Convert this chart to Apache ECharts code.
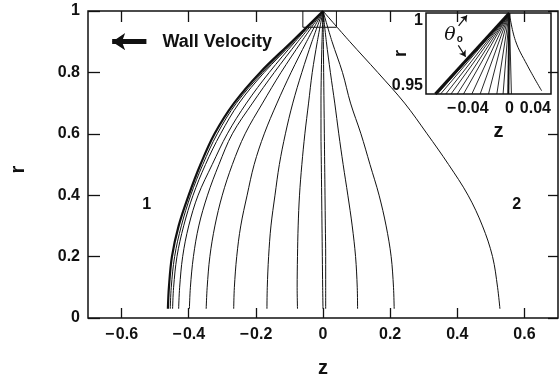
<!DOCTYPE html>
<html>
<head>
<meta charset="utf-8">
<script src="https://cdn.jsdelivr.net/npm/echarts@6/dist/echarts.min.js"></script>
<style>
  html, body { margin: 0; padding: 0; background: #fff; }
  #chart { width: 559px; height: 379px; }
</style>
</head>
<body>
<div id="chart"></div>
<script>
// Radial levels at which each interface profile z(r) is sampled
const rLevels = [1, 0.9, 0.8, 0.7, 0.6, 0.5, 0.4, 0.3, 0.2, 0.1, 0.03];

// Interface profiles z(r), one array per time step
const path1  = [0, -0.093, -0.187, -0.265, -0.323, -0.365, -0.400, -0.430, -0.450, -0.459, -0.462];
const path2  = [0, -0.090, -0.180, -0.258, -0.315, -0.358, -0.394, -0.422, -0.442, -0.452, -0.455];
const path3  = [0, -0.087, -0.175, -0.250, -0.305, -0.350, -0.387, -0.415, -0.435, -0.445, -0.448];
const path4  = [0, -0.083, -0.160, -0.228, -0.285, -0.330, -0.372, -0.400, -0.418, -0.427, -0.430];
const path5  = [0, -0.075, -0.145, -0.210, -0.270, -0.310, -0.344, -0.370, -0.386, -0.395, -0.398];
const path6  = [0, -0.064, -0.125, -0.180, -0.232, -0.270, -0.300, -0.322, -0.337, -0.345, -0.348];
const path7  = [0, -0.049, -0.095, -0.137, -0.175, -0.205, -0.226, -0.245, -0.257, -0.264, -0.266];
const path8  = [0, -0.033, -0.063, -0.090, -0.112, -0.130, -0.143, -0.155, -0.162, -0.166, -0.167];
const path9  = [0, -0.017, -0.032, -0.043, -0.054, -0.063, -0.070, -0.074, -0.076, -0.077, -0.076];
const path10 = [0, -0.003, -0.005, -0.006, -0.006, -0.005, -0.004, -0.003, -0.002, -0.001, 0.000];
const path11 = [0, 0.001, 0.002, 0.003, 0.004, 0.005, 0.006, 0.007, 0.008, 0.008, 0.008];
const path12 = [0, 0.010, 0.022, 0.035, 0.047, 0.060, 0.074, 0.087, 0.097, 0.102, 0.103];
const path13 = [0, 0.027, 0.058, 0.082, 0.113, 0.140, 0.167, 0.188, 0.203, 0.210, 0.212];
const path14 = [0, 0.080, 0.163, 0.243, 0.310, 0.374, 0.432, 0.475, 0.505, 0.520, 0.527];
const profiles = [path1, path2, path3, path4, path5, path6, path7, path8, path9, path10, path11, path12, path13, path14];

// Axis ticks
const zTicks = [-0.6, -0.4, -0.2, 0, 0.2, 0.4, 0.6];

// Region near the contact line that the inset enlarges: [zMin, zMax, rMin, rMax]
const zoomBox = [-0.06, 0.04, 0.947, 1];

// Inset: profiles near the contact line, end points at r = 0.95
const insetEnds = [-0.071, -0.069, -0.066, -0.061, -0.056, -0.050, -0.044, -0.036, -0.028, -0.020, -0.012, -0.006, -0.001, 0.002];
const insetCurveZ = [0, 0.0058, 0.017, 0.031];
const insetCurveR = [1, 0.983, 0.968, 0.952];

const FONT = "'Liberation Sans', Arial, Helvetica, sans-serif";
const INK = '#111';

function fmt(v) {
  if (Math.abs(v) < 1e-9) return '0';
  const s = String(+Math.abs(v).toFixed(3));
  return (v < 0 ? '\u2212\u200a' : '') + s;
}

const labelStyle = { fontFamily: FONT, fontWeight: 'bold', fontSize: 16, color: INK };
const tickLine = { color: INK, width: 1.3 };
const noLine = { show: false, onZero: false };

const series = [];
profiles.forEach((zs, i) => {
  series.push({
    type: 'line', xAxisIndex: 0, yAxisIndex: 0,
    data: zs.map((z, k) => [z, rLevels[k]]),
    showSymbol: false, smooth: 0.35, silent: true,
    lineStyle: { color: INK, width: i === 0 ? 2.2 : 1 }
  });
});

// Outline of the enlarged region
series.push({
  type: 'line', xAxisIndex: 0, yAxisIndex: 0, showSymbol: false, silent: true,
  data: [[zoomBox[0], zoomBox[3]], [zoomBox[0], zoomBox[2]], [zoomBox[1], zoomBox[2]], [zoomBox[1], zoomBox[3]]],
  lineStyle: { color: INK, width: 1 }
});

// Inset profiles
insetEnds.forEach((z, i) => {
  series.push({
    type: 'line', xAxisIndex: 2, yAxisIndex: 2, showSymbol: false, silent: true, z: 6,
    data: [[0, 1], [z, 0.95]],
    lineStyle: { color: INK, width: i === 0 ? 3 : (i === 12 ? 2 : 0.9) }
  });
});
series.push({
  type: 'line', xAxisIndex: 2, yAxisIndex: 2, showSymbol: false, silent: true, smooth: 0.4, z: 6,
  data: insetCurveZ.map((z, k) => [z, insetCurveR[k]]),
  lineStyle: { color: INK, width: 1 }
});

// Wall velocity arrow
series.push({
  type: 'lines', coordinateSystem: 'cartesian2d', xAxisIndex: 0, yAxisIndex: 0, silent: true,
  symbol: ['none', 'arrow'], symbolSize: 13,
  lineStyle: { color: INK, width: 5, opacity: 1 },
  data: [{ coords: [[-0.526, 0.9], [-0.628, 0.9]] }]
});
// Arrows marking the contact angle in the inset
series.push({
  type: 'lines', coordinateSystem: 'cartesian2d', xAxisIndex: 2, yAxisIndex: 2, silent: true, z: 6,
  symbol: ['none', 'arrow'], symbolSize: 6,
  lineStyle: { color: INK, width: 1.2, opacity: 1 },
  data: [
    { coords: [[-0.0487, 0.992], [-0.0406, 0.9985]] },
    { coords: [[-0.0490, 0.9800], [-0.0420, 0.9730]] }
  ]
});

const option = {
  animation: false,
  backgroundColor: '#fff',
  grid: [
    { left: 88, top: 11, width: 470, height: 307, show: true, borderColor: INK, borderWidth: 1.5,
      backgroundColor: 'transparent', containLabel: false, outerBoundsMode: 'none' },
    { left: 426, top: 13, width: 125, height: 81, show: true, borderColor: INK, borderWidth: 1.5,
      backgroundColor: 'transparent', containLabel: false, outerBoundsMode: 'none' }
  ],
  xAxis: [
    {
      type: 'value', gridIndex: 0, position: 'bottom', min: -0.7, max: 0.7,
      axisLine: noLine, splitLine: { show: false },
      axisTick: { show: true, inside: true, length: 10, customValues: zTicks, lineStyle: tickLine },
      axisLabel: Object.assign({ customValues: zTicks, margin: 9, formatter: fmt }, labelStyle),
      name: 'z', nameLocation: 'middle', nameGap: 40,
      nameTextStyle: { fontFamily: FONT, fontWeight: 'bold', fontSize: 20, color: INK }
    },
    {
      type: 'value', gridIndex: 0, position: 'top', min: -0.7, max: 0.7,
      axisLine: noLine, splitLine: { show: false },
      axisTick: { show: true, inside: true, length: 11, customValues: zTicks, lineStyle: tickLine },
      axisLabel: { show: false }
    },
    {
      type: 'value', gridIndex: 1, position: 'bottom', min: -0.08, max: 0.04, interval: 0.04,
      axisLine: noLine, splitLine: { show: false }, axisTick: { show: false },
      axisLabel: Object.assign({ margin: 7, showMinLabel: false, alignMaxLabel: 'right', formatter: fmt }, labelStyle),
      name: 'z', nameLocation: 'middle', nameGap: 27, nameMoveOverlap: false,
      nameTextStyle: { fontFamily: FONT, fontWeight: 'bold', fontSize: 20, color: INK, padding: [0, 0, 0, 20] }
    }
  ],
  yAxis: [
    {
      type: 'value', gridIndex: 0, position: 'left', min: 0, max: 1, interval: 0.2,
      axisLine: noLine, splitLine: { show: false },
      axisTick: { show: true, inside: true, length: 12, lineStyle: tickLine },
      axisLabel: Object.assign({ margin: 8, formatter: fmt }, labelStyle),
      name: 'r', nameLocation: 'middle', nameGap: 60, nameRotate: 90,
      nameTextStyle: { fontFamily: FONT, fontWeight: 'bold', fontSize: 20, color: INK, padding: [0, 10, 0, 0] }
    },
    {
      type: 'value', gridIndex: 0, position: 'right', min: 0, max: 1, interval: 0.2,
      axisLine: noLine, splitLine: { show: false },
      axisTick: { show: true, inside: true, length: 10, lineStyle: tickLine },
      axisLabel: { show: false }
    },
    {
      type: 'value', gridIndex: 1, position: 'left', min: 0.95, max: 1, interval: 0.05,
      axisLine: noLine, splitLine: { show: false }, axisTick: { show: false },
      axisLabel: Object.assign({ margin: 3, formatter: fmt, verticalAlignMinLabel: 'bottom', verticalAlignMaxLabel: 'top' }, labelStyle),
      name: 'r', nameLocation: 'middle', nameGap: 16, nameRotate: 90, nameMoveOverlap: false,
      nameTextStyle: { fontFamily: FONT, fontWeight: 'bold', fontSize: 18, color: INK }
    }
  ],
  series: series
};

const chart = echarts.init(document.getElementById('chart'), null, { renderer: 'canvas' });
chart.setOption(option);

// Text annotations placed in data coordinates
const mainPx = p => chart.convertToPixel({ xAxisIndex: 0, yAxisIndex: 0 }, p);
const insetPx = p => chart.convertToPixel({ xAxisIndex: 2, yAxisIndex: 2 }, p);
const wallPos = mainPx([-0.478, 0.9]);
const region1 = mainPx([-0.525, 0.368]);
const region2 = mainPx([0.577, 0.368]);
const thetaPos = insetPx([-0.0535, 0.9866]);

chart.setOption({
  graphic: [
    { type: 'text', x: wallPos[0], y: wallPos[1], z: 10,
      style: { text: 'Wall Velocity', fill: INK, font: 'bold 18px ' + FONT, textAlign: 'left', textVerticalAlign: 'middle' } },
    { type: 'text', x: region1[0], y: region1[1], z: 10,
      style: { text: '1', fill: INK, font: 'bold 16px ' + FONT, textAlign: 'center', textVerticalAlign: 'middle' } },
    { type: 'text', x: region2[0], y: region2[1], z: 10,
      style: { text: '2', fill: INK, font: 'bold 16px ' + FONT, textAlign: 'center', textVerticalAlign: 'middle' } },
    { type: 'text', x: thetaPos[0], y: thetaPos[1], z: 10,
      style: {
        text: '{t|\u03b8}{s|o}', textAlign: 'center', textVerticalAlign: 'middle',
        rich: {
          t: { fontFamily: "'DejaVu Serif', 'Liberation Serif', serif", fontStyle: 'italic', fontSize: 19, fill: INK },
          s: { fontFamily: FONT, fontWeight: 'bold', fontSize: 10, fill: INK, padding: [9, 0, 0, 1] }
        }
      } }
  ]
});
</script>
</body>
</html>
